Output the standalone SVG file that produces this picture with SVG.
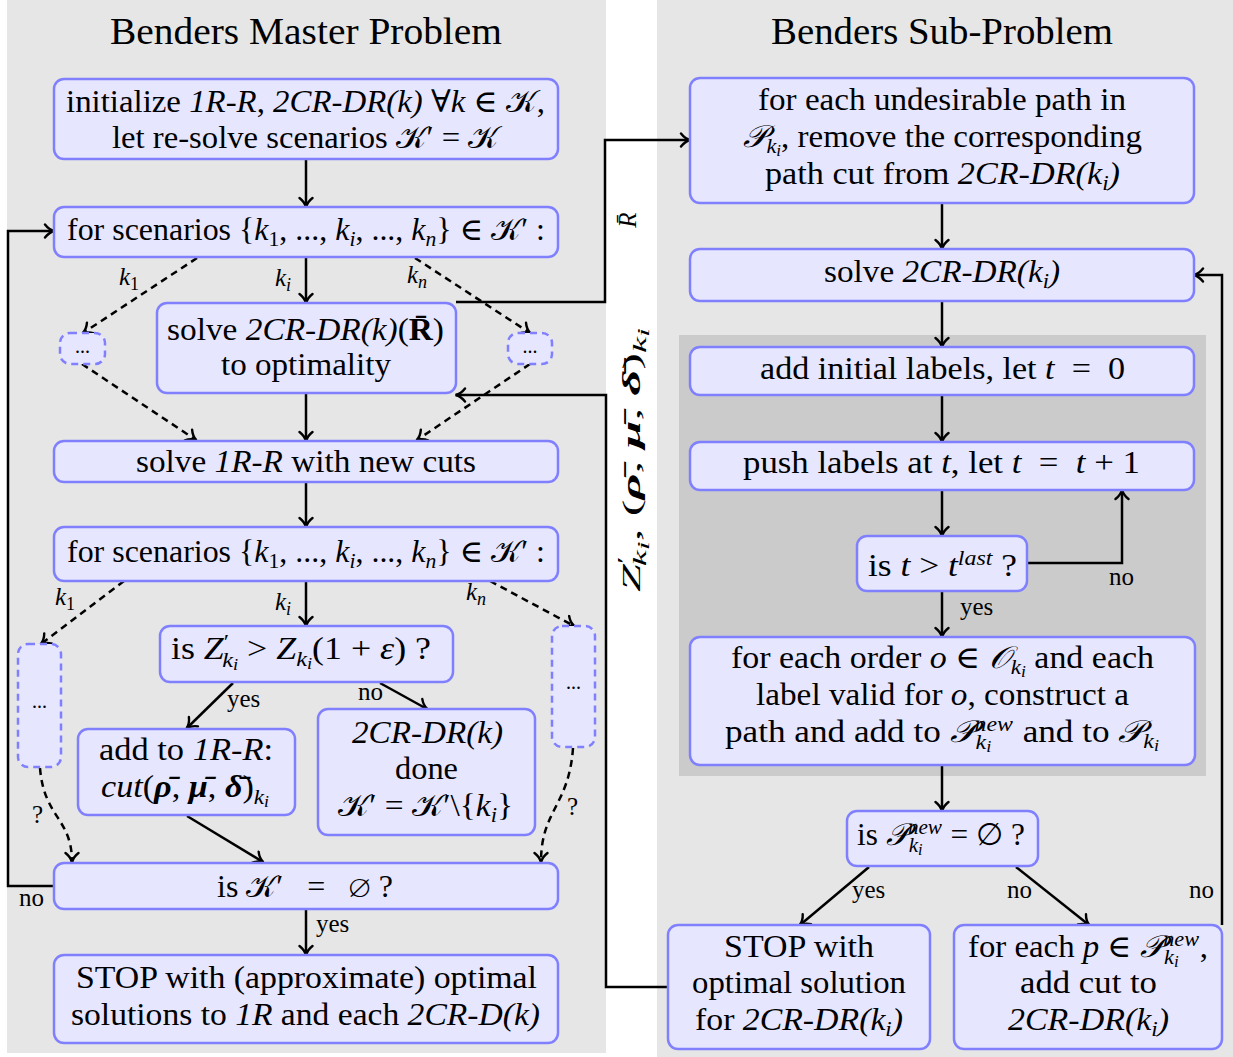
<svg xmlns="http://www.w3.org/2000/svg" width="1233" height="1057" viewBox="0 0 1233 1057">
<style>
text{font-family:'Liberation Serif','Times New Roman','DejaVu Serif',serif;fill:#000}
.t{font-size:31px;text-anchor:middle}
.ttl{font-size:37px;text-anchor:middle}
.l{font-size:25px}
.i{font-style:italic}
.b{font-weight:bold}
.s{font-size:21px}
.ss{font-size:16px}
.ls{font-size:18px}
.dt{font-size:20px;text-anchor:middle}
.box{fill:#e6e6ff;stroke:#8080ff;stroke-width:2.5}
.dbox{fill:#e6e6ff;stroke:#8080ff;stroke-width:2.5;stroke-dasharray:7 5}
.c{fill:none;stroke:#000;stroke-width:2.5;marker-end:url(#ah)}
.d{stroke-dasharray:7 5}
</style>
<defs>
<marker id="ah" markerUnits="userSpaceOnUse" markerWidth="14" markerHeight="16" viewBox="-12 -8 14 16" refX="0" refY="0" orient="auto">
<path d="M-9,-6.5 C-6,-2.5 -2,-0.6 0.5,0 C-2,0.6 -6,2.5 -9,6.5" fill="none" stroke="#000" stroke-width="2.4" stroke-linecap="round"/>
</marker>
</defs>
<rect id="masterPanel" x="7" y="0" width="599" height="1053" fill="#e6e6e6"/>
<rect id="subPanel" x="657" y="0" width="576" height="1057" fill="#e6e6e6"/>
<rect id="labelPanel" x="679" y="335" width="527" height="441" fill="#cbcbcb"/>
<text class="ttl" x="306" y="44" textLength="392" lengthAdjust="spacingAndGlyphs">Benders Master Problem</text>
<text class="ttl" x="942" y="44" textLength="342" lengthAdjust="spacingAndGlyphs">Benders Sub-Problem</text>

<g id="connectors">
<path class="c" d="M306,159 V207"/>
<path class="c" d="M306,257 V303"/>
<path class="c d" d="M197,258 L83,333"/>
<path class="c d" d="M415,258 L530,333"/>
<path class="c d" d="M82,364 L196,440"/>
<path class="c d" d="M530,364 L417,440"/>
<path class="c" d="M306,393 V441"/>
<path class="c" d="M306,482 V527"/>
<path class="c" d="M306,581 V626"/>
<path class="c d" d="M124,581 L41,644"/>
<path class="c d" d="M490,581 L574,626"/>
<path class="c" d="M233,683 L187,728"/>
<path class="c" d="M380,683 L427,709"/>
<path class="c" d="M187,816 L263,862"/>
<path class="c d" d="M40,768 C44,818 72,818 72,862"/>
<path class="c d" d="M573,748 C569,806 541,810 541,862"/>
<path class="c" d="M306,909 V955"/>
<path class="c" d="M54,886 H8 V231 H54"/>
<path class="c" d="M456,302 H605 V140 H690"/>
<path class="c" d="M668,987 H606 V395 H456"/>
<path class="c" d="M942,203 V249"/>
<path class="c" d="M942,301 V347"/>
<path class="c" d="M942,395 V442"/>
<path class="c" d="M942,490 V536"/>
<path class="c" d="M1027,563 H1122 V490"/>
<path class="c" d="M942,591 V637"/>
<path class="c" d="M942,765 V811"/>
<path class="c" d="M869,867 L800,925"/>
<path class="c" d="M1016,867 L1089,925"/>
<path class="c" d="M1222,925 V275 H1194"/>
<text class="l" x="119" y="285"><tspan class="i">k</tspan><tspan class="ls" dy="5">1</tspan></text>
<text class="l" x="275" y="286"><tspan class="i">k</tspan><tspan class="ls i" dy="5">i</tspan></text>
<text class="l" x="407" y="283"><tspan class="i">k</tspan><tspan class="ls i" dy="5">n</tspan></text>
<text class="l" x="55" y="605"><tspan class="i">k</tspan><tspan class="ls" dy="5">1</tspan></text>
<text class="l" x="275" y="610"><tspan class="i">k</tspan><tspan class="ls i" dy="5">i</tspan></text>
<text class="l" x="466" y="600"><tspan class="i">k</tspan><tspan class="ls i" dy="5">n</tspan></text>
<text class="l" x="227" y="707">yes</text>
<text class="l" x="358" y="700">no</text>
<text class="l" x="32" y="823">?</text>
<text class="l" x="567" y="815">?</text>
<text class="l" x="316" y="932">yes</text>
<text class="l" x="19" y="906">no</text>
<text class="l" x="960" y="615">yes</text>
<text class="l" x="1109" y="585">no</text>
<text class="l" x="852" y="898">yes</text>
<text class="l" x="1007" y="898">no</text>
<text class="l" x="1189" y="898">no</text>
<text class="l" text-anchor="middle" transform="translate(636,220) rotate(-90)"><tspan class="i">R̄</tspan></text>
<text class="l" text-anchor="middle" transform="translate(640,460) rotate(-90)" textLength="264" lengthAdjust="spacingAndGlyphs"><tspan class="i">Z</tspan><tspan class="ls" dy="-9">′</tspan><tspan class="ls i" dx="-5" dy="15">k</tspan><tspan class="ss i" dy="3">i</tspan><tspan dy="-9">, (</tspan><tspan class="b i">ρ̄</tspan>, <tspan class="b i">μ̄</tspan>, <tspan class="b i">δ̄</tspan>)<tspan class="ls i" dy="6">k</tspan><tspan class="ss i" dy="3">i</tspan></text>
</g>

<g id="n-init"><rect class="box" x="54" y="79" width="504" height="80" rx="10"/>
<text class="t" x="305.5" y="112" textLength="479" lengthAdjust="spacingAndGlyphs">initialize <tspan class="i">1R-R</tspan>, <tspan class="i">2CR-DR(k)</tspan> ∀<tspan class="i">k</tspan> ∈ 𝒦,</text>
<text class="t" x="305.5" y="148" textLength="387" lengthAdjust="spacingAndGlyphs">let re-solve scenarios 𝒦′ = 𝒦</text></g>

<g id="n-for1"><rect class="box" x="54" y="207" width="504" height="50" rx="10"/>
<text class="t" x="306" y="240" textLength="478" lengthAdjust="spacingAndGlyphs">for scenarios {<tspan class="i">k</tspan><tspan class="s" dy="6">1</tspan><tspan dy="-6">, ..., </tspan><tspan class="i">k</tspan><tspan class="s i" dy="6">i</tspan><tspan dy="-6">, ..., </tspan><tspan class="i">k</tspan><tspan class="s i" dy="6">n</tspan><tspan dy="-6">} ∈ 𝒦′ :</tspan></text></g>

<g id="n-dots1"><rect class="dbox" x="60" y="333" width="45" height="31" rx="10"/><text class="dt" x="82.5" y="353">...</text></g>
<g id="n-dots2"><rect class="dbox" x="508" y="333" width="44" height="31" rx="10"/><text class="dt" x="530" y="353">...</text></g>

<g id="n-solveSub"><rect class="box" x="157" y="303" width="299" height="90" rx="10"/>
<text class="t" x="305.5" y="340" textLength="277" lengthAdjust="spacingAndGlyphs">solve <tspan class="i">2CR-DR(k)</tspan>(<tspan class="b">R̄</tspan>)</text>
<text class="t" x="306" y="375" textLength="170" lengthAdjust="spacingAndGlyphs">to optimality</text></g>

<g id="n-solveMaster"><rect class="box" x="54" y="441" width="504" height="41" rx="10"/>
<text class="t" x="306" y="472" textLength="340" lengthAdjust="spacingAndGlyphs">solve <tspan class="i">1R-R</tspan> with new cuts</text></g>

<g id="n-for2"><rect class="box" x="54" y="527" width="504" height="54" rx="10"/>
<text class="t" x="306" y="562" textLength="478" lengthAdjust="spacingAndGlyphs">for scenarios {<tspan class="i">k</tspan><tspan class="s" dy="6">1</tspan><tspan dy="-6">, ..., </tspan><tspan class="i">k</tspan><tspan class="s i" dy="6">i</tspan><tspan dy="-6">, ..., </tspan><tspan class="i">k</tspan><tspan class="s i" dy="6">n</tspan><tspan dy="-6">} ∈ 𝒦′ :</tspan></text></g>

<g id="n-dots3"><rect class="dbox" x="18" y="644" width="43" height="123" rx="10"/><text class="dt" x="39.5" y="708">...</text></g>
<g id="n-dots4"><rect class="dbox" x="552" y="626" width="43" height="121" rx="10"/><text class="dt" x="573.5" y="689">...</text></g>

<g id="n-isZ"><rect class="box" x="160" y="626" width="293" height="56" rx="10"/>
<text class="t" x="301" y="659" textLength="260" lengthAdjust="spacingAndGlyphs">is <tspan class="i">Z</tspan><tspan class="s" dy="-10">′</tspan><tspan class="s i" dx="-6" dy="18">k</tspan><tspan class="ss i" dy="3">i</tspan><tspan dy="-11"> &gt; </tspan><tspan class="i">Z</tspan><tspan class="s i" dy="7">k</tspan><tspan class="ss i" dy="3">i</tspan><tspan dy="-10">(1 + </tspan><tspan class="i">ε</tspan>) ?</text></g>

<g id="n-addCut"><rect class="box" x="78" y="729" width="217" height="86" rx="10"/>
<text class="t" x="186" y="760" textLength="174" lengthAdjust="spacingAndGlyphs">add to <tspan class="i">1R-R</tspan>:</text>
<text class="t" x="185" y="797" textLength="168" lengthAdjust="spacingAndGlyphs"><tspan class="i">cut</tspan>(<tspan class="b i">ρ̄</tspan>, <tspan class="b i">μ̄</tspan>, <tspan class="b i">δ̄</tspan>)<tspan class="s i" dy="7">k</tspan><tspan class="ss i" dy="3">i</tspan></text></g>

<g id="n-done"><rect class="box" x="318" y="709" width="217" height="126" rx="10"/>
<text class="t" x="427.5" y="743" textLength="151" lengthAdjust="spacingAndGlyphs"><tspan class="i">2CR-DR(k)</tspan></text>
<text class="t" x="426.5" y="779" textLength="63" lengthAdjust="spacingAndGlyphs">done</text>
<text class="t" x="425.5" y="816" textLength="175" lengthAdjust="spacingAndGlyphs">𝒦′ = 𝒦′\{<tspan class="i">k</tspan><tspan class="s i" dy="6">i</tspan><tspan dy="-6">}</tspan></text></g>

<g id="n-isK"><rect class="box" x="54" y="863" width="504" height="46" rx="10"/>
<text class="t" x="305" y="897" textLength="176" lengthAdjust="spacingAndGlyphs">is 𝒦′&#160;&#160; =&#160;&#160; ∅ ?</text></g>

<g id="n-stopMaster"><rect class="box" x="54" y="955" width="504" height="88" rx="10"/>
<text class="t" x="306.5" y="988" textLength="461" lengthAdjust="spacingAndGlyphs">STOP with (approximate) optimal</text>
<text class="t" x="305.5" y="1025" textLength="469" lengthAdjust="spacingAndGlyphs">solutions to <tspan class="i">1R</tspan> and each <tspan class="i">2CR-D(k)</tspan></text></g>

<g id="n-removeCuts"><rect class="box" x="690" y="78" width="504" height="125" rx="10"/>
<text class="t" x="942" y="110" textLength="368" lengthAdjust="spacingAndGlyphs">for each undesirable path in</text>
<text class="t" x="942.5" y="147" textLength="399" lengthAdjust="spacingAndGlyphs"><tspan class="i">𝒫</tspan><tspan class="s i" dy="6">k</tspan><tspan class="ss i" dy="3">i</tspan><tspan dy="-9">, remove the corresponding</tspan></text>
<text class="t" x="942.5" y="184" textLength="355" lengthAdjust="spacingAndGlyphs">path cut from <tspan class="i">2CR-DR(k</tspan><tspan class="s i" dy="6">i</tspan><tspan class="i" dy="-6">)</tspan></text></g>

<g id="n-solveSP"><rect class="box" x="690" y="249" width="504" height="52" rx="10"/>
<text class="t" x="942" y="282" textLength="236" lengthAdjust="spacingAndGlyphs">solve <tspan class="i">2CR-DR(k</tspan><tspan class="s i" dy="6">i</tspan><tspan class="i" dy="-6">)</tspan></text></g>

<g id="n-initLabels"><rect class="box" x="690" y="347" width="504" height="48" rx="10"/>
<text class="t" x="942.5" y="379" textLength="365" lengthAdjust="spacingAndGlyphs">add initial labels, let <tspan class="i">t</tspan>&#160; =&#160; 0</text></g>

<g id="n-push"><rect class="box" x="690" y="442" width="504" height="48" rx="10"/>
<text class="t" x="941.5" y="473" textLength="397" lengthAdjust="spacingAndGlyphs">push labels at <tspan class="i">t</tspan>, let <tspan class="i">t</tspan>&#160; =&#160; <tspan class="i">t</tspan> + 1</text></g>

<g id="n-isLast"><rect class="box" x="857" y="536" width="170" height="55" rx="10"/>
<text class="t" x="942.5" y="576" textLength="149" lengthAdjust="spacingAndGlyphs">is <tspan class="i">t</tspan> &gt; <tspan class="i">t</tspan><tspan class="s i" dy="-11">last</tspan><tspan dy="11"> ?</tspan></text></g>

<g id="n-construct"><rect class="box" x="690" y="637" width="505" height="128" rx="10"/>
<text class="t" x="942.5" y="668" textLength="423" lengthAdjust="spacingAndGlyphs">for each order <tspan class="i">o</tspan> ∈ <tspan class="i">𝒪</tspan><tspan class="s i" dy="6">k</tspan><tspan class="ss i" dy="3">i</tspan><tspan dy="-9"> and each</tspan></text>
<text class="t" x="942.5" y="705" textLength="373" lengthAdjust="spacingAndGlyphs">label valid for <tspan class="i">o</tspan>, construct a</text>
<text class="t" x="942" y="742" textLength="434" lengthAdjust="spacingAndGlyphs">path and add to <tspan class="i">𝒫</tspan><tspan class="s i" dy="-11">new</tspan><tspan class="s i" dx="-33" dy="18">k</tspan><tspan class="ss i" dy="3">i</tspan><tspan dx="20" dy="-10"> and to </tspan><tspan class="i">𝒫</tspan><tspan class="s i" dy="6">k</tspan><tspan class="ss i" dy="3">i</tspan></text></g>

<g id="n-isEmpty"><rect class="box" x="847" y="811" width="191" height="55" rx="10"/>
<text class="t" x="941" y="845" textLength="168" lengthAdjust="spacingAndGlyphs">is <tspan class="i">𝒫</tspan><tspan class="s i" dy="-11">new</tspan><tspan class="s i" dx="-33" dy="18">k</tspan><tspan class="ss i" dy="3">i</tspan><tspan dx="20" dy="-10"> = ∅ ?</tspan></text></g>

<g id="n-stopSP"><rect class="box" x="668" y="925" width="262" height="124" rx="10"/>
<text class="t" x="799" y="957" textLength="150" lengthAdjust="spacingAndGlyphs">STOP with</text>
<text class="t" x="799" y="993" textLength="214" lengthAdjust="spacingAndGlyphs">optimal solution</text>
<text class="t" x="799" y="1030" textLength="208" lengthAdjust="spacingAndGlyphs">for <tspan class="i">2CR-DR(k</tspan><tspan class="s i" dy="6">i</tspan><tspan class="i" dy="-6">)</tspan></text></g>

<g id="n-addCutSP"><rect class="box" x="954" y="925" width="268" height="124" rx="10"/>
<text class="t" x="1088" y="957" textLength="240" lengthAdjust="spacingAndGlyphs">for each <tspan class="i">p</tspan> ∈ <tspan class="i">𝒫</tspan><tspan class="s i" dy="-11">new</tspan><tspan class="s i" dx="-33" dy="18">k</tspan><tspan class="ss i" dy="3">i</tspan><tspan dx="20" dy="-10">,</tspan></text>
<text class="t" x="1088.5" y="993" textLength="137" lengthAdjust="spacingAndGlyphs">add cut to</text>
<text class="t" x="1088.5" y="1030" textLength="161" lengthAdjust="spacingAndGlyphs"><tspan class="i">2CR-DR(k</tspan><tspan class="s i" dy="6">i</tspan><tspan class="i" dy="-6">)</tspan></text></g>
</svg>
